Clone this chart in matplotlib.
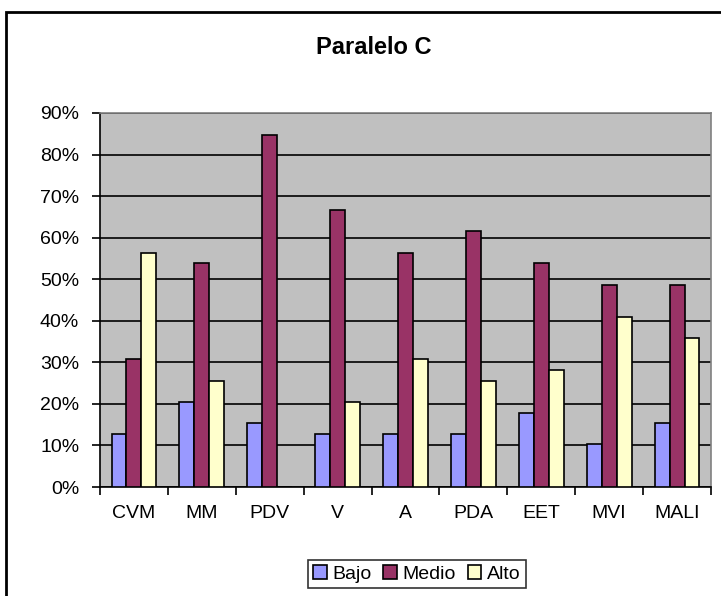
#!/usr/bin/env python3
import numpy as np
import matplotlib.pyplot as plt
from matplotlib.patches import Rectangle
from matplotlib.ticker import PercentFormatter

plt.rcParams['font.family'] = ['Liberation Sans', 'DejaVu Sans']

categories = ['CVM', 'MM', 'PDV', 'V', 'A', 'PDA', 'EET', 'MVI', 'MALI']
bajo = [12.8, 20.5, 15.4, 12.8, 12.8, 12.8, 17.9, 10.3, 15.4]
medio = [30.8, 53.8, 84.6, 66.7, 56.4, 61.5, 53.8, 48.7, 48.7]
alto = [56.4, 25.6, 0.0, 20.5, 30.8, 25.6, 28.2, 41.0, 35.9]
series_names = ['Bajo', 'Medio', 'Alto']
colors = ['#9999FF', '#993366', '#FFFFCC']

fig = plt.figure(figsize=(7.21, 5.96), dpi=100)
W, H = 721, 596
ax = fig.add_axes([100 / W, (H - 487) / H, 611 / W, (487 - 113) / H])
ax.set_facecolor('#C0C0C0')

x = np.arange(len(categories)) + 0.5
w = 0.22
for k, (vals, name, c) in enumerate(zip([bajo, medio, alto], series_names, colors)):
    ax.bar(x + (k - 1) * w, np.array(vals) / 100, w, color=c, edgecolor='black',
           linewidth=1.2, label=name, zorder=3)

ax.set_xlim(0, len(categories))
ax.set_ylim(0, 0.9)
ax.set_yticks(np.arange(0, 0.91, 0.1))
ax.yaxis.set_major_formatter(PercentFormatter(1.0, decimals=0))
ax.grid(axis='y', color='black', linewidth=1.2, zorder=1)

ax.set_xticks(np.arange(len(categories) + 1))
ax.set_xticklabels([])
ax.set_xticks(x, minor=True)
ax.set_xticklabels(categories, minor=True)
ax.tick_params(axis='x', which='major', length=6, width=1.2, direction='out')
ax.tick_params(axis='x', which='minor', length=0, pad=13, labelsize=14)
ax.tick_params(axis='y', length=6, width=1.2, labelsize=14, pad=9)

for side in ['left', 'bottom']:
    ax.spines[side].set_color('black')
    ax.spines[side].set_linewidth(1.2)
for side in ['top', 'right']:
    ax.spines[side].set_color('#808080')
    ax.spines[side].set_linewidth(1.2)

fig.text(374 / W, 1 - 48 / H, 'Paralelo C', ha='center', va='center',
         fontsize=17, fontweight='bold')

leg = fig.legend(loc='center', bbox_to_anchor=(417 / W, 1 - 574 / H), ncol=3,
                 fontsize=14, frameon=True, fancybox=False, edgecolor='black',
                 handlelength=0.7, handleheight=0.7, handletextpad=0.3,
                 columnspacing=0.6, borderpad=0.25)
leg.get_frame().set_linewidth(1.2)

fig.patches.append(Rectangle((6 / W, -0.1), 1.2, 1.1 - 12 / H, transform=fig.transFigure,
                             fill=False, edgecolor='black', linewidth=2))

fig.savefig('out.png', dpi=100)
